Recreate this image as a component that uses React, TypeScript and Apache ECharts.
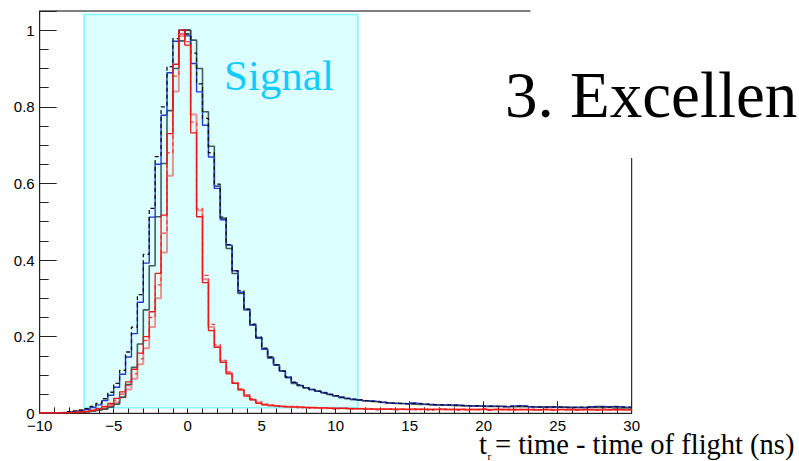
import React, { useEffect, useRef } from "react";
import * as echarts from "echarts";

// Histogram binning (bin centres start at -10, width 0.4 ns)
const BIN_START = -10;
const BIN_WIDTH = 0.4;

const X_MIN = -10;
const X_MAX = 30;
const X_TICK_STEP = 5;
const Y_MIN = 0;
const Y_MAX = 1.05;
const Y_LABEL_STEP = 0.2;
const Y_MINOR_STEP = 0.05;

const SIGNAL_WINDOW = [-7, 11.5];
const SIGNAL_BOX_Y = [0.0146, 1.041];

const blueSolid = [
  0, 0, 0, 0.001, 0.002, 0.003, 0.005, 0.007, 0.01, 0.015,
  0.022, 0.033, 0.047, 0.068, 0.102, 0.147, 0.208, 0.29, 0.392, 0.512,
  0.65, 0.778, 0.889, 0.971, 1.0, 0.985, 0.913, 0.839, 0.752, 0.669,
  0.587, 0.505, 0.439, 0.372, 0.316, 0.272, 0.231, 0.198, 0.168, 0.144,
  0.126, 0.11, 0.094, 0.08, 0.073, 0.067, 0.062, 0.058, 0.054, 0.05,
  0.046, 0.042, 0.039, 0.036, 0.035, 0.033, 0.032, 0.031, 0.029, 0.027,
  0.026, 0.026, 0.025, 0.027, 0.026, 0.024, 0.023, 0.022, 0.022, 0.021,
  0.022, 0.021, 0.02, 0.019, 0.019, 0.018, 0.019, 0.018, 0.018, 0.017,
  0.019, 0.02, 0.019, 0.017, 0.016, 0.016, 0.017, 0.016, 0.016, 0.015,
  0.016, 0.015, 0.015, 0.017, 0.018, 0.018, 0.017, 0.018, 0.017, 0.016,
  0.016,
];

const darkSolid = [
  0, 0, 0, 0, 0.001, 0.001, 0.002, 0.003, 0.004, 0.006,
  0.008, 0.011, 0.016, 0.024, 0.042, 0.075, 0.12, 0.181, 0.27, 0.385,
  0.513, 0.652, 0.79, 0.9, 0.972, 1.0, 0.974, 0.9, 0.787, 0.697,
  0.593, 0.509, 0.43, 0.365, 0.313, 0.27, 0.23, 0.196, 0.167, 0.146,
  0.126, 0.111, 0.093, 0.078, 0.072, 0.066, 0.062, 0.058, 0.054, 0.049,
  0.045, 0.041, 0.038, 0.036, 0.034, 0.032, 0.031, 0.03, 0.028, 0.027,
  0.026, 0.025, 0.025, 0.024, 0.023, 0.023, 0.022, 0.022, 0.021, 0.021,
  0.02, 0.02, 0.019, 0.019, 0.019, 0.018, 0.018, 0.018, 0.018, 0.017,
  0.017, 0.017, 0.017, 0.017, 0.016, 0.016, 0.016, 0.016, 0.016, 0.016,
  0.015, 0.015, 0.015, 0.015, 0.015, 0.015, 0.015, 0.014, 0.014, 0.014,
  0.014,
];

const blackDashed = [
  0, 0, 0, 0.001, 0.002, 0.004, 0.006, 0.009, 0.012, 0.018,
  0.026, 0.038, 0.055, 0.078, 0.112, 0.16, 0.225, 0.31, 0.415, 0.535,
  0.67, 0.8, 0.905, 0.978, 1.0, 0.99, 0.94, 0.86, 0.77, 0.68,
  0.598, 0.512, 0.44, 0.372, 0.32, 0.272, 0.233, 0.199, 0.17, 0.147,
  0.127, 0.11, 0.095, 0.081, 0.074, 0.067, 0.062, 0.057, 0.053, 0.049,
  0.046, 0.042, 0.039, 0.037, 0.035, 0.033, 0.031, 0.03, 0.029, 0.027,
  0.026, 0.026, 0.025, 0.026, 0.025, 0.024, 0.023, 0.022, 0.022, 0.022,
  0.021, 0.02, 0.02, 0.019, 0.02, 0.019, 0.018, 0.018, 0.017, 0.018,
  0.018, 0.019, 0.018, 0.017, 0.017, 0.016, 0.016, 0.017, 0.016, 0.015,
  0.015, 0.016, 0.015, 0.016, 0.017, 0.017, 0.016, 0.017, 0.016, 0.016,
  0.015,
];

const redSolid = [
  0.001, 0.001, 0.001, 0.001, 0.002, 0.002, 0.003, 0.004, 0.005, 0.008,
  0.012, 0.018, 0.026, 0.039, 0.056, 0.082, 0.115, 0.157, 0.2, 0.265,
  0.365, 0.517, 0.73, 0.911, 1.0, 0.961, 0.732, 0.513, 0.341, 0.216,
  0.172, 0.133, 0.103, 0.078, 0.061, 0.045, 0.035, 0.026, 0.022, 0.02,
  0.019, 0.018, 0.017, 0.016, 0.016, 0.015, 0.015, 0.014, 0.014, 0.013,
  0.013, 0.013, 0.012, 0.012, 0.012, 0.011, 0.011, 0.011, 0.011, 0.01,
  0.011, 0.01, 0.01, 0.011, 0.01, 0.01, 0.01, 0.01, 0.011, 0.01,
  0.01, 0.01, 0.009, 0.01, 0.01, 0.01, 0.009, 0.01, 0.01, 0.009,
  0.01, 0.009, 0.01, 0.009, 0.009, 0.01, 0.009, 0.009, 0.01, 0.009,
  0.009, 0.009, 0.01, 0.009, 0.009, 0.009, 0.009, 0.01, 0.009, 0.009,
  0.009,
];

const redFaint = [
  0.001, 0.001, 0.001, 0.001, 0.001, 0.002, 0.002, 0.003, 0.004, 0.006,
  0.009, 0.013, 0.019, 0.028, 0.042, 0.062, 0.09, 0.128, 0.17, 0.225,
  0.3, 0.42, 0.62, 0.84, 0.985, 1.0, 0.78, 0.53, 0.35, 0.225,
  0.175, 0.137, 0.105, 0.08, 0.062, 0.047, 0.036, 0.028, 0.023, 0.021,
  0.019, 0.018, 0.017, 0.017, 0.016, 0.015, 0.015, 0.014, 0.014, 0.014,
  0.013, 0.013, 0.012, 0.012, 0.012, 0.012, 0.011, 0.011, 0.011, 0.011,
  0.01, 0.011, 0.01, 0.01, 0.011, 0.01, 0.01, 0.01, 0.01, 0.01,
  0.01, 0.01, 0.01, 0.009, 0.01, 0.01, 0.01, 0.009, 0.01, 0.01,
  0.009, 0.01, 0.009, 0.01, 0.009, 0.009, 0.01, 0.009, 0.009, 0.009,
  0.01, 0.009, 0.009, 0.009, 0.009, 0.01, 0.009, 0.009, 0.009, 0.009,
  0.009,
];

const redDashed = [
  0.001, 0.001, 0.001, 0.002, 0.002, 0.002, 0.003, 0.004, 0.006, 0.008,
  0.011, 0.016, 0.023, 0.034, 0.05, 0.072, 0.103, 0.142, 0.19, 0.25,
  0.335, 0.47, 0.68, 0.88, 0.99, 0.97, 0.76, 0.535, 0.36, 0.232,
  0.18, 0.138, 0.108, 0.08, 0.064, 0.048, 0.038, 0.03, 0.024, 0.022,
  0.02, 0.017, 0.016, 0.018, 0.014, 0.016, 0.013, 0.015, 0.012, 0.014,
  0.011, 0.013, 0.014, 0.011, 0.012, 0.01, 0.012, 0.009, 0.011, 0.012,
  0.009, 0.011, 0.01, 0.012, 0.009, 0.011, 0.008, 0.01, 0.012, 0.009,
  0.01, 0.008, 0.011, 0.01, 0.009, 0.012, 0.008, 0.01, 0.009, 0.011,
  0.008, 0.01, 0.009, 0.011, 0.008, 0.009, 0.011, 0.008, 0.01, 0.009,
  0.011, 0.008, 0.009, 0.01, 0.008, 0.011, 0.009, 0.008, 0.01, 0.009,
  0.01,
];

const binCenters = blueSolid.map((_, i) => BIN_START + BIN_WIDTH * i);

function toPairs(vals: number[]) {
  return vals.map((v, i) => [binCenters[i], v]);
}

function histSeries(name: string, vals: number[], color: string, width: number, type: any, z: number) {
  return {
    type: "line",
    name,
    step: "middle",
    symbol: "none",
    showSymbol: false,
    silent: true,
    clip: true,
    z,
    data: toPairs(vals),
    lineStyle: { color, width, type },
  };
}

export default function App() {
  const ref = useRef<HTMLDivElement>(null);

  useEffect(() => {
    document.body.style.margin = "0";
    if (!ref.current) return;
    const chart = echarts.init(ref.current, undefined, { renderer: "svg" });

    const tickFont = { color: "#000", fontSize: 15, fontFamily: "Liberation Sans" };

    const first: any = histSeries("faint red", redFaint, "rgba(240,40,40,0.5)", 2, "solid", 2);
    first.markArea = {
      silent: true,
      itemStyle: { color: "#dcffff", borderColor: "#7ff5ff", borderWidth: 1.5 },
      data: [
        [
          { coord: [SIGNAL_WINDOW[0], SIGNAL_BOX_Y[0]] },
          { coord: [SIGNAL_WINDOW[1], SIGNAL_BOX_Y[1]] },
        ],
      ],
    };

    const option: any = {
      animation: false,
      grid: {
        left: 39.7,
        right: 167.3,
        top: 11,
        bottom: 47.7,
        show: true,
        borderColor: "#000",
        borderWidth: 1,
        backgroundColor: "transparent",
      },
      xAxis: {
        type: "value",
        min: X_MIN,
        max: X_MAX,
        interval: X_TICK_STEP,
        axisLine: { show: true, onZero: false, lineStyle: { color: "#222", width: 1 } },
        axisTick: { show: true, inside: true, length: 12, lineStyle: { color: "#222" } },
        minorTick: { show: true, splitNumber: 5, length: 6, lineStyle: { color: "#222" } },
        splitLine: { show: false },
        minorSplitLine: { show: false },
        axisLabel: {
          ...tickFont,
          margin: 5,
          lineHeight: 14,
          formatter: (v: number) => String(v).replace("-", "\u2212"),
        },
      },
      yAxis: [
        {
          type: "value",
          min: Y_MIN,
          max: Y_MAX,
          interval: Y_MINOR_STEP,
          position: "left",
          axisLine: { show: true, onZero: false, lineStyle: { color: "#222", width: 1 } },
          axisTick: { show: true, inside: true, length: 9, lineStyle: { color: "#222" } },
          axisLabel: { show: false },
          splitLine: { show: false },
        },
        {
          type: "value",
          min: Y_MIN,
          max: Y_MAX,
          interval: Y_LABEL_STEP,
          position: "left",
          offset: 0,
          axisLine: { show: false, onZero: false },
          axisTick: { show: true, inside: true, length: 17, lineStyle: { color: "#222" } },
          splitLine: { show: false },
          axisLabel: {
            ...tickFont,
            margin: 5,
            formatter: (v: number) => {
              const r = Math.round(v / Y_LABEL_STEP) * Y_LABEL_STEP;
              if (Math.abs(v - r) > 1e-6) return "";
              return String(parseFloat(r.toFixed(1)));
            },
          },
        },
      ],
      series: [
        first,
        histSeries("dark", darkSolid, "rgba(10,40,40,0.75)", 1.6, "solid", 3),
        histSeries("blue", blueSolid, "#2438d0", 1.4, "solid", 4),
        histSeries("black dashed", blackDashed, "#111", 1.3, [4, 3], 5),
        histSeries("red dashed", redDashed, "#ff3b3b", 1.3, [4, 3], 6),
        histSeries("red", redSolid, "#ee1515", 1.3, "solid", 7),
      ],
      graphic: [
        {
          type: "text",
          x: 224,
          y: 75,
          z: 50,
          silent: true,
          style: {
            text: "Signal",
            fontSize: 43,
            fontFamily: "Liberation Serif",
            fill: "#12ccff",
            align: "left",
            verticalAlign: "middle",
          },
        },
        {
          type: "rect",
          z: 100,
          silent: true,
          shape: { x: 530.5, y: 0, width: 270, height: 158 },
          style: { fill: "#ffffff" },
        },
        {
          type: "text",
          x: 505,
          y: 95,
          z: 101,
          silent: true,
          style: {
            text: "3. Excellen",
            fontSize: 65,
            fontFamily: "Liberation Serif",
            fill: "#000",
            align: "left",
            verticalAlign: "middle",
          },
        },
        {
          type: "text",
          x: 479,
          y: 444,
          z: 101,
          silent: true,
          style: {
            text: "t",
            fontSize: 28.5,
            lineHeight: 20,
            fontFamily: "Liberation Serif",
            fill: "#000",
            align: "left",
            verticalAlign: "middle",
          },
        },
        {
          type: "text",
          x: 487.5,
          y: 456,
          z: 101,
          silent: true,
          style: {
            text: "r",
            fontSize: 11,
            lineHeight: 8,
            fontFamily: "Liberation Serif",
            fill: "#000",
            align: "left",
            verticalAlign: "middle",
          },
        },
        {
          type: "text",
          x: 495,
          y: 444,
          z: 101,
          silent: true,
          style: {
            text: "= time - time of flight (ns)",
            fontSize: 28.5,
            lineHeight: 20,
            fontFamily: "Liberation Serif",
            fill: "#000",
            align: "left",
            verticalAlign: "middle",
          },
        },
      ],
    };

    chart.setOption(option);
    return () => chart.dispose();
  }, []);

  return <div ref={ref} style={{ width: 799, height: 461 }} />;
}
